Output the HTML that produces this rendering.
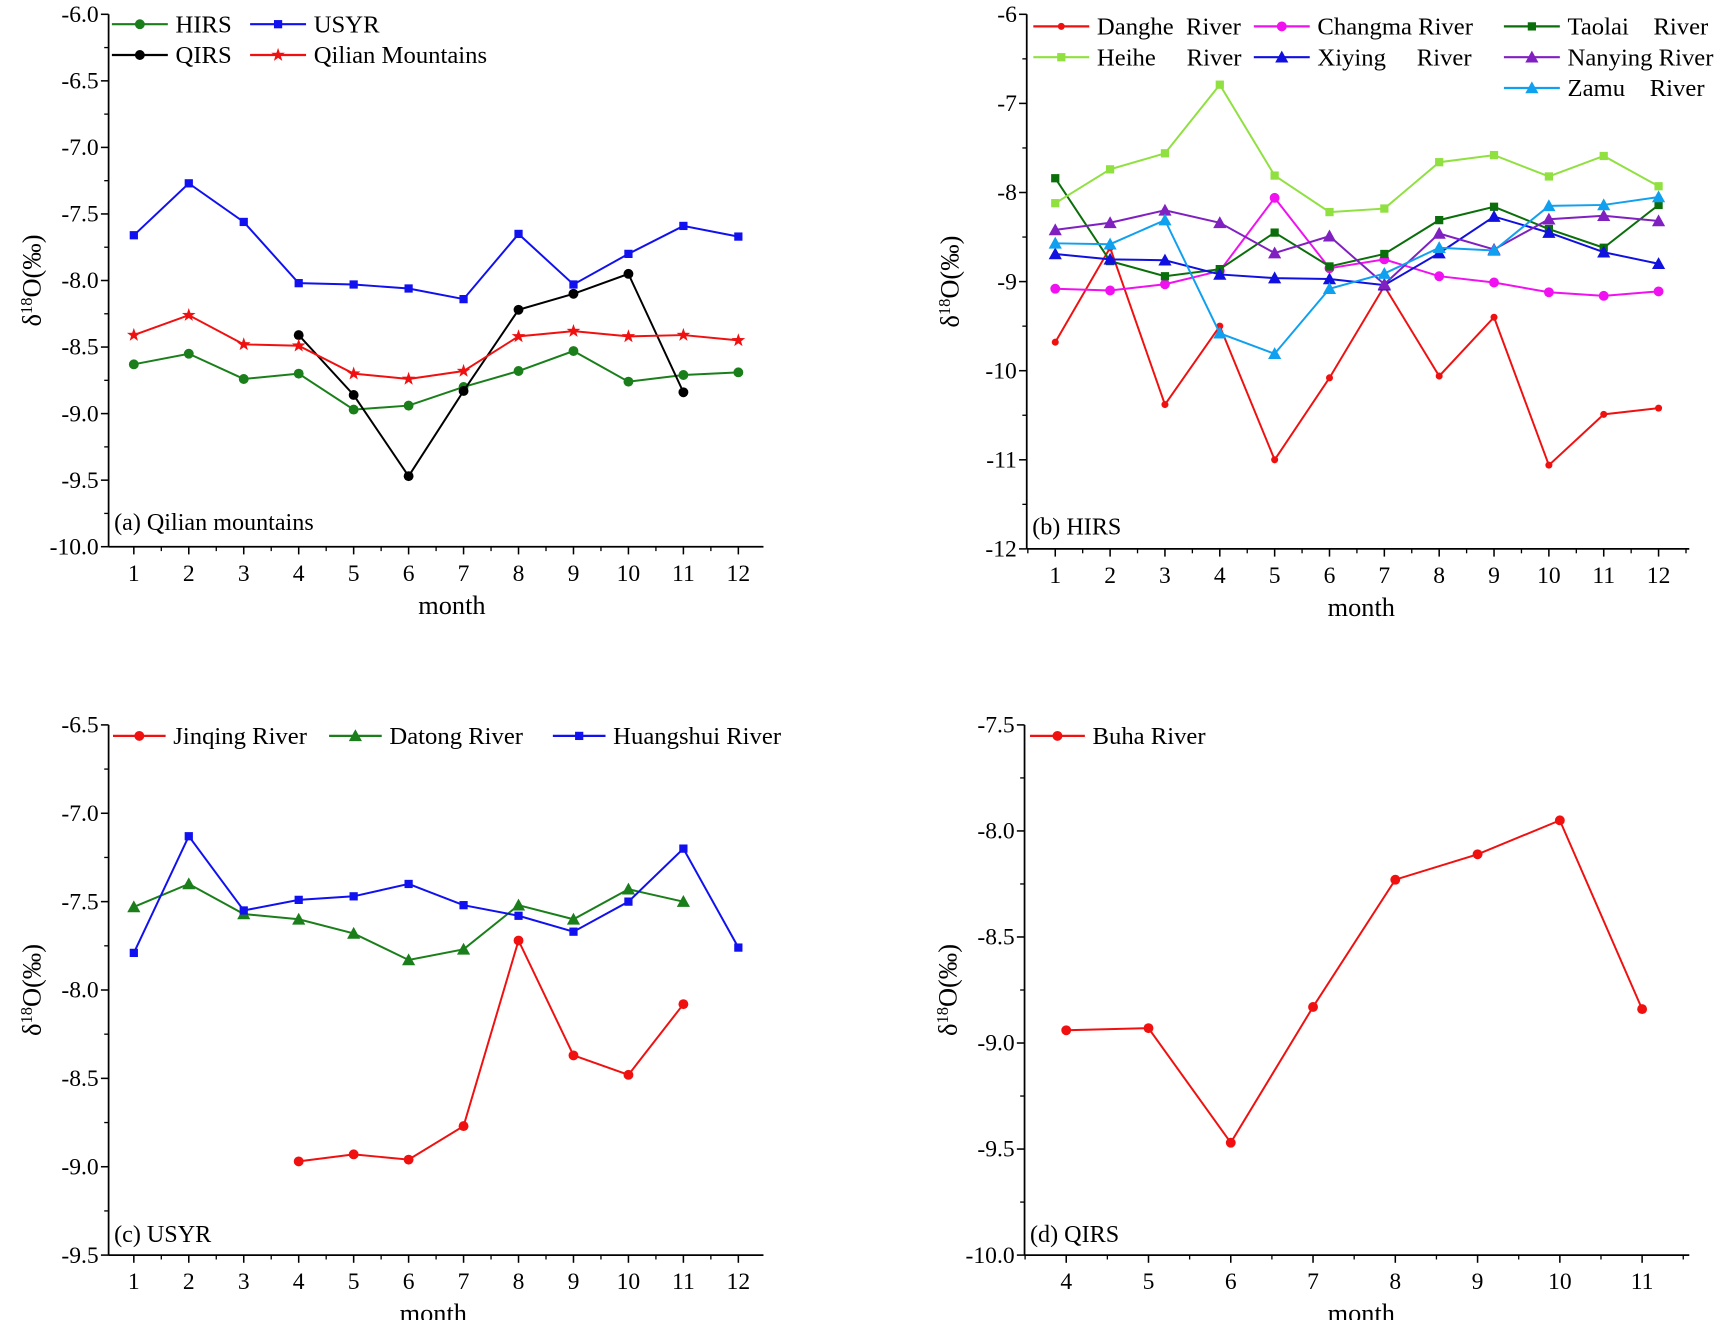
<!DOCTYPE html>
<html><head><meta charset="utf-8"><style>
html,body{margin:0;padding:0;background:#fff;}
svg{display:block;font-family:"Liberation Serif",serif;}
</style></head><body>
<svg id="fig" width="1720" height="1320" viewBox="0 0 1568 1200" preserveAspectRatio="none" xmlns="http://www.w3.org/2000/svg"></svg>
<script>
// ---- data ----
const monthsAll = [1,2,3,4,5,6,7,8,9,10,11,12];
const months4to11 = [4,5,6,7,8,9,10,11];
const months1to11 = [1,2,3,4,5,6,7,8,9,10,11];
// panel a
const aHIRS = [-8.63,-8.55,-8.74,-8.70,-8.97,-8.94,-8.80,-8.68,-8.53,-8.76,-8.71,-8.69];
const aUSYR = [-7.66,-7.27,-7.56,-8.02,-8.03,-8.06,-8.14,-7.65,-8.03,-7.80,-7.59,-7.67];
const aQIRS = [-8.41,-8.86,-9.47,-8.83,-8.22,-8.10,-7.95,-8.84];
const aQilian = [-8.41,-8.26,-8.48,-8.49,-8.70,-8.74,-8.68,-8.42,-8.38,-8.42,-8.41,-8.45];
const aTicks = [-6.0,-6.5,-7.0,-7.5,-8.0,-8.5,-9.0,-9.5,-10.0];
// panel b
const bDanghe = [-9.68,-8.62,-10.38,-9.50,-11.00,-10.08,-9.05,-10.06,-9.40,-11.06,-10.49,-10.42];
const bChangma = [-9.08,-9.10,-9.03,-8.88,-8.06,-8.85,-8.75,-8.94,-9.01,-9.12,-9.16,-9.11];
const bTaolai = [-7.84,-8.77,-8.94,-8.86,-8.45,-8.83,-8.69,-8.31,-8.16,-8.41,-8.62,-8.14];
const bHeihe = [-8.12,-7.74,-7.56,-6.79,-7.81,-8.22,-8.18,-7.66,-7.58,-7.82,-7.59,-7.93];
const bXiying = [-8.69,-8.75,-8.76,-8.92,-8.96,-8.97,-9.04,-8.68,-8.27,-8.45,-8.67,-8.80];
const bNanying = [-8.42,-8.34,-8.20,-8.34,-8.68,-8.49,-9.03,-8.46,-8.64,-8.30,-8.26,-8.32];
const bZamu = [-8.57,-8.58,-8.31,-9.58,-9.81,-9.08,-8.91,-8.62,-8.65,-8.15,-8.14,-8.05];
const bTicks = [-6,-7,-8,-9,-10,-11,-12];
// panel c
const cJinqing = [-8.97,-8.93,-8.96,-8.77,-7.72,-8.37,-8.48,-8.08];
const cDatong = [-7.53,-7.40,-7.57,-7.60,-7.68,-7.83,-7.77,-7.52,-7.60,-7.43,-7.50];
const cHuangshui = [-7.79,-7.13,-7.55,-7.49,-7.47,-7.40,-7.52,-7.58,-7.67,-7.50,-7.20,-7.76];
const cTicks = [-6.5,-7.0,-7.5,-8.0,-8.5,-9.0,-9.5];
// panel d
const dBuha = [-8.94,-8.93,-9.47,-8.83,-8.23,-8.11,-7.95,-8.84];
const dTicks = [-7.5,-8.0,-8.5,-9.0,-9.5,-10.0];

const NS = "http://www.w3.org/2000/svg";
const fig = document.getElementById('fig');
function mk(tag, attrs, parent){
  const e = document.createElementNS(NS, tag);
  for (const k in attrs) e.setAttribute(k, attrs[k]);
  (parent||fig).appendChild(e);
  return e;
}
function marker(g, type, x, y, color, size){
  let e;
  if (type==='circle'){ e = mk('circle',{cx:x,cy:y,r:size||4.5,fill:color},g); }
  else if (type==='square'){ const s=size||7.5; e = mk('rect',{x:x-s/2,y:y-s/2,width:s,height:s,fill:color},g); }
  else if (type==='triangle'){ const s=size||6; e = mk('polygon',{points:`${x},${y-s} ${x-s},${y+s*0.8} ${x+s},${y+s*0.8}`,fill:color},g); }
  else { const pts=[]; for(let i=0;i<10;i++){const r=i%2?2.6:6.5;const a=-Math.PI/2+i*Math.PI/5;pts.push((x+r*Math.cos(a)).toFixed(1)+','+(y+r*Math.sin(a)).toFixed(1));} e = mk('polygon',{points:pts.join(' '),fill:color},g); }
  
  
}
function panel(cfg){
  const g = mk('g',{});
  
  
  const xS = m => cfg.x0 + (m - cfg.m0)*cfg.xstep;
  const yS = v => cfg.top + (cfg.ymax - v)/(cfg.ymax - cfg.ymin)*(cfg.bottom - cfg.top);
  const ya = mk('line',{x1:cfg.left,y1:cfg.top,x2:cfg.left,y2:cfg.bottom,stroke:'#000','stroke-width':1.6},g);
   
  const xa = mk('line',{x1:cfg.left,y1:cfg.bottom,x2:cfg.right,y2:cfg.bottom,stroke:'#000','stroke-width':1.6},g);
   
  const step = Math.abs(cfg.ticks[1]-cfg.ticks[0]);
  cfg.ticks.forEach((t,i)=>{
    const y = yS(t);
    mk('line',{x1:cfg.left-7,y1:y,x2:cfg.left,y2:y,stroke:'#000','stroke-width':1.4},g);
    if (i < cfg.ticks.length-1){ const ym=yS(t-step/2); mk('line',{x1:cfg.left-4,y1:ym,x2:cfg.left,y2:ym,stroke:'#000','stroke-width':1.2},g); }
    const tx = mk('text',{x:cfg.left-9,y:y+7,'text-anchor':'end','font-size':21.5},g);
    tx.textContent = cfg.dec ? t.toFixed(1) : String(t);
     
  });
  cfg.xmonths.forEach((m,i)=>{
    const x = xS(m);
    mk('line',{x1:x,y1:cfg.bottom,x2:x,y2:cfg.bottom+7,stroke:'#000','stroke-width':1.4},g);
    const xh = xS(m+0.5);
    if (xh < cfg.right) mk('line',{x1:xh,y1:cfg.bottom,x2:xh,y2:cfg.bottom+4,stroke:'#000','stroke-width':1.2},g);
    if (i===0){ const xl=xS(m-0.5); if (xl>cfg.left) mk('line',{x1:xl,y1:cfg.bottom,x2:xl,y2:cfg.bottom+4,stroke:'#000','stroke-width':1.2},g); }
    const tx = mk('text',{x:x,y:cfg.bottom+31,'text-anchor':'middle','font-size':21.5},g);
    tx.textContent = String(m);
     
  });
  const xt = mk('text',{x:cfg.monthX,y:cfg.bottom+61,'text-anchor':'middle','font-size':24},g);
  xt.textContent='month';
   
  const cy = (cfg.top+cfg.bottom)/2;
  const yt = mk('text',{x:0,y:0,'text-anchor':'middle','font-size':24,transform:`translate(${cfg.left-62},${cy}) rotate(-90)`},g);
  yt.innerHTML = 'δ<tspan dy="-8" font-size="15">18</tspan><tspan dy="8">O(‰)</tspan>';
   
  const pl = mk('text',{x:cfg.left+5,y:cfg.labelY,'font-size':22},g);
  pl.textContent = cfg.label;
   
  cfg.series.forEach(s=>{
    const sg = mk('g',{},g);
    
    
    const pts = s.vals.map((v,i)=>xS(s.months[i]).toFixed(1)+','+yS(v).toFixed(1)).join(' ');
    mk('polyline',{points:pts,fill:'none',stroke:s.color,'stroke-width':1.8},sg);
    s.vals.forEach((v,i)=>marker(sg,s.mk,xS(s.months[i]),yS(v),s.color,s.size));
    const lg = mk('g',{},g);
    
    
    const lw = s.lw || 48;
    mk('line',{x1:s.lx,y1:s.ly,x2:s.lx+lw,y2:s.ly,stroke:s.color,'stroke-width':2},lg);
    marker(lg,s.mk,s.lx+lw/2,s.ly,s.color,s.size);
    const lt = mk('text',{x:s.lx+lw+7,y:s.ly+7.5,'font-size':22.5},lg);
    lt.setAttribute('style','white-space:pre');
    lt.textContent = s.name;
  });
}
panel({name:'panel-a-qilian',left:99,right:696,top:13,bottom:497,ymax:-6,ymin:-10,ticks:aTicks,dec:true,
  m0:1,x0:122,xstep:50.1,xmonths:monthsAll,monthX:412,label:'(a) Qilian mountains',labelY:482,
  series:[
    {id:'series-hirs',name:'HIRS',vals:aHIRS,months:monthsAll,color:'#1a7f1a',mk:'circle',lx:102,ly:22,lw:51},
    {id:'series-usyr',name:'USYR',vals:aUSYR,months:monthsAll,color:'#1010f0',mk:'square',lx:228,ly:22,lw:51},
    {id:'series-qirs',name:'QIRS',vals:aQIRS,months:months4to11,color:'#000',mk:'circle',lx:102,ly:50,lw:51},
    {id:'series-qilian',name:'Qilian Mountains',vals:aQilian,months:monthsAll,color:'#f01010',mk:'star',lx:228,ly:50,lw:51}
  ]});
panel({name:'panel-b-hirs',left:936,right:1540,top:13,bottom:499,ymax:-6,ymin:-12,ticks:bTicks,dec:false,
  m0:1,x0:962,xstep:50,xmonths:monthsAll,monthX:1241,label:'(b) HIRS',labelY:486,
  series:[
    {id:'series-danghe',name:'Danghe  River',vals:bDanghe,months:monthsAll,color:'#f01010',mk:'circle',size:3.2,lx:942,ly:24,lw:51},
    {id:'series-changma',name:'Changma River',vals:bChangma,months:monthsAll,color:'#f010f0',mk:'circle',lx:1143,ly:24,lw:51},
    {id:'series-taolai',name:'Taolai    River',vals:bTaolai,months:monthsAll,color:'#0a6e0a',mk:'square',lx:1371,ly:24,lw:51},
    {id:'series-heihe',name:'Heihe     River',vals:bHeihe,months:monthsAll,color:'#90e040',mk:'square',lx:942,ly:52,lw:51},
    {id:'series-xiying',name:'Xiying     River',vals:bXiying,months:monthsAll,color:'#1010e0',mk:'triangle',lx:1143,ly:52,lw:51},
    {id:'series-nanying',name:'Nanying River',vals:bNanying,months:monthsAll,color:'#8020c0',mk:'triangle',lx:1371,ly:52,lw:51},
    {id:'series-zamu',name:'Zamu    River',vals:bZamu,months:monthsAll,color:'#10a0f0',mk:'triangle',lx:1371,ly:80,lw:51}
  ]});
panel({name:'panel-c-usyr',left:99,right:696,top:659,bottom:1141,ymax:-6.5,ymin:-9.5,ticks:cTicks,dec:true,
  m0:1,x0:122,xstep:50.1,xmonths:monthsAll,monthX:395,label:'(c) USYR',labelY:1129,
  series:[
    {id:'series-jinqing',name:'Jinqing River',vals:cJinqing,months:months4to11,color:'#f01010',mk:'circle',lx:103,ly:669,lw:48},
    {id:'series-datong',name:'Datong River',vals:cDatong,months:months1to11,color:'#1a7f1a',mk:'triangle',lx:300,ly:669,lw:48},
    {id:'series-huangshui',name:'Huangshui River',vals:cHuangshui,months:monthsAll,color:'#1010f0',mk:'square',lx:504,ly:669,lw:48}
  ]});
panel({name:'panel-d-qirs',left:934,right:1540,top:659,bottom:1141,ymax:-7.5,ymin:-10,ticks:dTicks,dec:true,
  m0:4,x0:972,xstep:75,xmonths:months4to11,monthX:1241,label:'(d)  QIRS',labelY:1129,
  series:[
    {id:'series-buha',name:'Buha River',vals:dBuha,months:months4to11,color:'#f01010',mk:'circle',lx:939,ly:669,lw:50}
  ]});
</script>
</body></html>
